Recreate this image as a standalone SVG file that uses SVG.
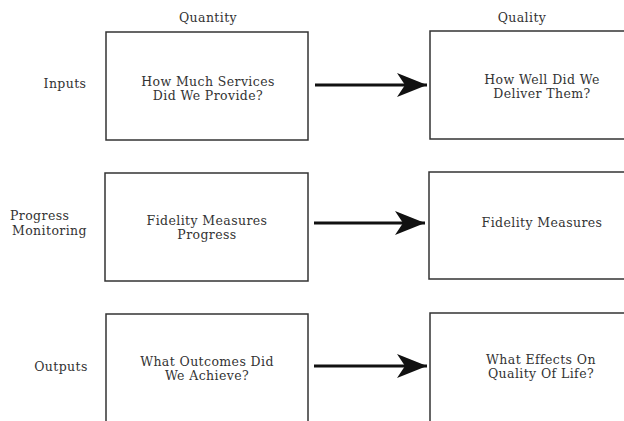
<svg xmlns="http://www.w3.org/2000/svg" width="624" height="421" viewBox="0 0 624 421">
<defs>
<style>
.box{fill:#fff;stroke:#333;stroke-width:1.5}
.t{font-family:"DejaVu Serif","Liberation Serif",serif;font-size:12.5px;letter-spacing:0.4px;fill:#333;text-anchor:middle}
.l{font-family:"DejaVu Serif","Liberation Serif",serif;font-size:12.5px;letter-spacing:0.4px;fill:#333}
.c{stroke:#111;stroke-width:3;fill:none}
</style>
<marker id="ah" markerUnits="userSpaceOnUse" markerWidth="34" markerHeight="26" refX="30" refY="12" orient="auto">
<path d="M0,0 L30,12 L0,24 L8,12 Z" fill="#111"/>
</marker>
</defs>
<rect width="624" height="421" fill="#fff"/>
<text class="t" x="208" y="22">Quantity</text>
<text class="t" x="522" y="22">Quality</text>
<text class="t" x="65" y="88">Inputs</text>
<text class="l" x="10" y="220">Progress</text>
<text class="l" x="12" y="235">Monitoring</text>
<text class="t" x="61" y="371">Outputs</text>
<g id="n1"><rect class="box" x="106" y="32" width="202" height="108"/>
<text class="t" x="208" y="86">How Much Services</text><text class="t" x="208" y="100">Did We Provide?</text></g>
<g id="n2"><rect class="box" x="430" y="31" width="202" height="108"/>
<text class="t" x="542" y="84">How Well Did We</text><text class="t" x="542" y="98">Deliver Them?</text></g>
<g id="n3"><rect class="box" x="105" y="173" width="203" height="108"/>
<text class="t" x="207" y="225">Fidelity Measures</text><text class="t" x="207" y="239">Progress</text></g>
<g id="n4"><rect class="box" x="429" y="172" width="203" height="107"/>
<text class="t" x="542" y="227">Fidelity Measures</text></g>
<g id="n5"><rect class="box" x="106" y="314" width="202" height="120"/>
<text class="t" x="207" y="366">What Outcomes Did</text><text class="t" x="207" y="380">We Achieve?</text></g>
<g id="n6"><rect class="box" x="430" y="313" width="202" height="120"/>
<text class="t" x="541" y="364">What Effects On</text><text class="t" x="541" y="378">Quality Of Life?</text></g>
<g id="connectors">
<line class="c" x1="315" y1="85" x2="427" y2="85" marker-end="url(#ah)"/>
<line class="c" x1="314" y1="223" x2="425" y2="223" marker-end="url(#ah)"/>
<line class="c" x1="314" y1="366" x2="427" y2="366" marker-end="url(#ah)"/>
</g>
</svg>
